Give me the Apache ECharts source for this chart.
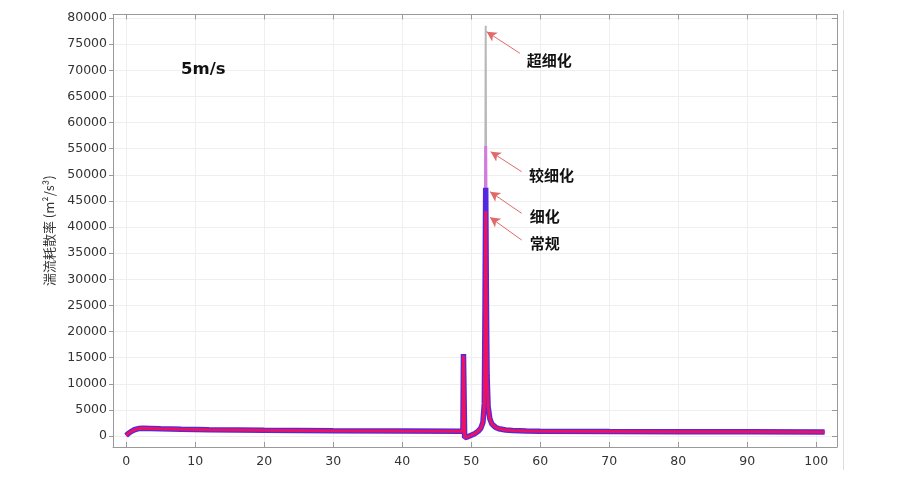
<!DOCTYPE html>
<html><head><meta charset="utf-8">
<script src="https://cdn.jsdelivr.net/npm/echarts@6/dist/echarts.min.js"></script>
<style>html,body{margin:0;padding:0;background:#fff}#c{width:900px;height:496px}</style>
</head><body><div id="c"></div>
<script>
// tick labels
const xTicks = [0,10,20,30,40,50,60,70,80,90,100];
const yTicks = [0,5000,10000,15000,20000,25000,30000,35000,40000,45000,50000,55000,60000,65000,70000,75000,80000];
// series names
const seriesNames = ['超细化','较细化','细化','常规'];
// shared x positions (m)
const xs = [0,0.3,0.7,1.2,1.8,2.5,3.5,5,8,12,20,30,40,48.8,48.88,48.92,49.05,49.5,50,50.5,51,51.4,51.7,51.9,52.0,52.1,52.2,52.3,52.45,52.7,53,53.5,54,55,56,58,60,70,80,90,101.2];
// 常规
const yNormal = [100,450,850,1200,1420,1480,1460,1400,1300,1200,1100,1020,960,920,15400,15300,-300,-150,150,450,900,1500,2600,6000,22000,43000,24000,11000,5500,3300,2300,1700,1400,1150,1050,950,900,850,820,800,780];
// 细化
const yFine = [100,450,850,1200,1420,1480,1460,1400,1300,1200,1100,1020,960,920,15700,15600,-300,-150,150,450,900,1500,2600,6200,24000,47500,26000,11500,5600,3300,2300,1700,1400,1150,1050,950,900,850,820,800,780];
// 较细化
const yFiner = [100,450,850,1200,1420,1480,1460,1400,1300,1200,1100,1020,960,920,15600,15500,-300,-150,150,450,900,1500,2600,6300,25000,55500,27000,11500,5600,3300,2300,1700,1400,1150,1050,950,900,850,820,800,780];
// 超细化
const yUltra = [100,450,850,1200,1420,1480,1460,1400,1300,1200,1100,1020,960,920,15600,15500,-300,-150,150,450,900,1500,2600,6300,26000,78500,28000,11500,5600,3300,2300,1700,1400,1150,1050,950,900,850,820,800,780];

const pair = ys => xs.map((x,i)=>[x, ys[i]]);

const chart = echarts.init(document.getElementById('c'));
const lblFont = {fontFamily:'DejaVu Sans', fontSize:12.5, color:'#333'};
const axisCol = '#9a9a9a';
const gridCol = '#efefef';
const plain = v => String(v);

const arrows = [
  {tip:[52.24,77380], start:[57.06,73240], text:[58.03,71960], name:'超细化'},
  {tip:[52.82,54410], start:[57.31,50580], text:[58.37,49950], name:'较细化'},
  {tip:[52.72,46760], start:[57.31,42620], text:[58.5,41970], name:'细化'},
  {tip:[52.72,41860], start:[57.31,37510], text:[58.5,36880], name:'常规'}
];

const option = {
  animation:false,
  backgroundColor:'#fff',
  title:{text:'5m/s', left:176, top:56, textStyle:{fontFamily:'DejaVu Sans', fontWeight:'bold', fontSize:16.5, color:'#111'}},
  grid:{left:113, right:63, top:14.5, bottom:49},
  graphic:[{type:'line', shape:{x1:843.5,y1:10,x2:843.5,y2:470}, style:{stroke:'#dcdcdc', lineWidth:1}}],
  xAxis:[{
    type:'value', min:-1.9, max:103,
    axisLine:{show:true, onZero:false, lineStyle:{color:axisCol}},
    axisTick:{show:true, inside:true, length:5, customValues:xTicks, lineStyle:{color:axisCol}},
    axisLabel:{...lblFont, margin:8, customValues:xTicks, formatter:plain},
    splitLine:{show:true, lineStyle:{color:gridCol}}
  },{
    type:'value', min:-1.9, max:103, position:'top',
    axisLine:{show:true, onZero:false, lineStyle:{color:axisCol}},
    axisTick:{show:true, inside:true, length:5, customValues:xTicks, lineStyle:{color:axisCol}},
    axisLabel:{show:false, customValues:xTicks},
    splitLine:{show:false}
  }],
  yAxis:[{
    type:'value', min:-2100, max:80670,
    name:'湍流耗散率 (m²/s³)', nameLocation:'middle', nameGap:57,
    nameTextStyle:{fontFamily:'Noto Sans CJK SC', fontSize:13, color:'#333'},
    axisLine:{show:true, onZero:false, lineStyle:{color:axisCol}},
    axisTick:{show:true, inside:false, length:4, customValues:yTicks, lineStyle:{color:axisCol}},
    axisLabel:{...lblFont, margin:6, customValues:yTicks, formatter:plain},
    splitLine:{show:true, lineStyle:{color:gridCol}}
  },{
    type:'value', min:-2100, max:80670, position:'right',
    axisLine:{show:true, onZero:false, lineStyle:{color:axisCol}},
    axisTick:{show:true, inside:true, length:5, customValues:yTicks, lineStyle:{color:axisCol}},
    axisLabel:{show:false, customValues:yTicks},
    splitLine:{show:false}
  }],
  series:[
    {name:seriesNames[0], type:'line', data:pair(yUltra), showSymbol:false, symbol:'none', lineStyle:{color:'#b8b8b8', width:2}},
    {name:seriesNames[1], type:'line', data:pair(yFiner), showSymbol:false, symbol:'none', lineStyle:{color:'#d27ae0', width:3}},
    {name:seriesNames[2], type:'line', data:pair(yFine), showSymbol:false, symbol:'none', lineStyle:{color:'#5428e0', width:5.5}},
    {name:seriesNames[3], type:'line', data:pair(yNormal), showSymbol:false, symbol:'none', lineStyle:{color:'#ec1260', width:3},
      markLine:{silent:true, symbol:['none','arrow'], symbolSize:[8,10],
        lineStyle:{color:'#e06a6a', width:1, type:'solid'}, label:{show:false},
        data:arrows.map(a=>[{coord:a.start},{coord:a.tip}])},
      markPoint:{silent:true, symbol:'circle', symbolSize:0,
        label:{show:true, position:'right', distance:0, fontFamily:'Noto Sans CJK SC', fontWeight:'bold', fontSize:15, color:'#111',
          formatter:p=>p.name},
        data:arrows.map(a=>({name:a.name, coord:a.text}))}
    }
  ]
};
chart.setOption(option);
</script>
</body></html>
